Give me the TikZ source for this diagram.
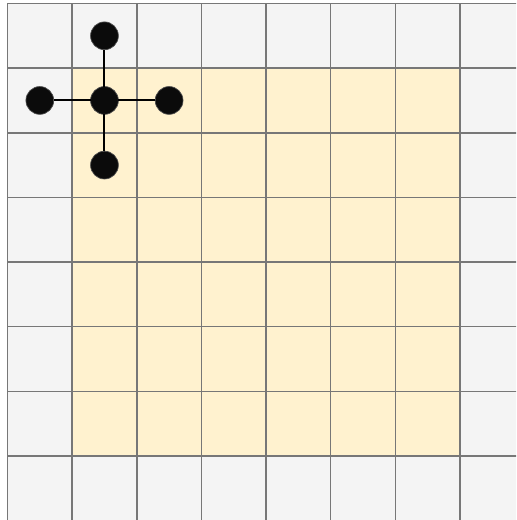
\documentclass[tikz,border=0pt]{standalone}
\usetikzlibrary{positioning}
\definecolor{cellgray}{HTML}{F4F4F4}
\definecolor{cellyellow}{HTML}{FFF2CF}
\definecolor{gridline}{HTML}{777777}
\definecolor{dotfill}{HTML}{0B0B0B}

\begin{document}
\begin{tikzpicture}[node distance=1cm,on grid,dot/.style={circle,fill=dotfill,draw=black!70,line width=0.3pt,minimum size=0.43cm,inner sep=0pt,outer sep=0pt}]
\useasboundingbox (-0.116,0.01) rectangle (7.867,8.054);
\clip (-0.116,0.01) rectangle (7.867,8.054);
\fill[cellgray] (0,0) rectangle (8,8);
\fill[cellyellow] (1,1) rectangle (7,7);
\draw[step=1cm,gridline,line width=0.65pt] (0,0) grid (8,8);
\node[dot] (dotc) at (1.5,6.5) {};
\node[dot,left=of dotc] (dotw) {};
\node[dot,right=of dotc] (dote) {};
\node[dot,above=of dotc] (dotn) {};
\node[dot,below=of dotc] (dots) {};
\draw[line width=0.9pt] (dotc) -- (dotw);
\draw[line width=0.9pt] (dotc) -- (dote);
\draw[line width=0.9pt] (dotc) -- (dotn);
\draw[line width=0.9pt] (dotc) -- (dots);
\end{tikzpicture}
\end{document}
